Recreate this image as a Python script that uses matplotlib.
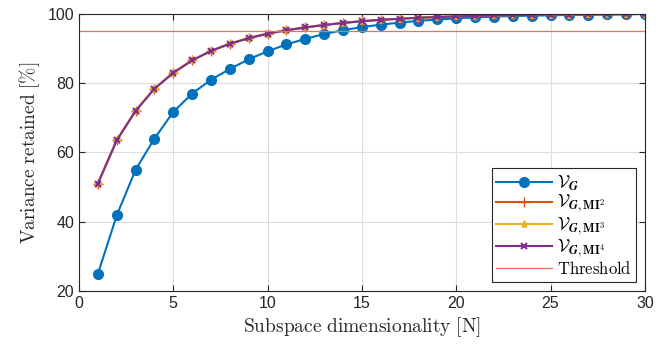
import matplotlib
matplotlib.use('Agg')
from matplotlib import pyplot as plt

plt.rcParams['mathtext.fontset'] = 'cm'

# data
n = list(range(1, 31))
v_g = [24.9, 41.8, 55.0, 64.0, 71.7, 77.0, 81.0, 84.1, 86.9, 89.2,
       91.2, 92.8, 94.2, 95.3, 96.2, 96.9, 97.5, 98.0, 98.4, 98.7,
       99.0, 99.2, 99.4, 99.5, 99.6, 99.7, 99.8, 99.85, 99.9, 100.0]
v_mi2 = [51.0, 63.5, 72.0, 78.4, 83.0, 86.6, 89.3, 91.4, 93.0, 94.3,
         95.3, 96.1, 96.8, 97.4, 97.9, 98.3, 98.6, 98.9, 99.1, 99.3,
         99.45, 99.55, 99.65, 99.72, 99.78, 99.83, 99.88, 99.92, 99.96, 100.0]
v_mi3 = v_mi2
v_mi4 = v_mi2
threshold = 95

plt.figure(figsize=(6.71, 3.48), dpi=100)
ax = plt.axes([0.1177, 0.1638, 0.8433, 0.7962])

ax.plot(n, v_g, color='#0072BD', marker='o', markersize=7, lw=1.5,
        label=r'$\mathcal{V}_{\boldsymbol{G}}$')
ax.plot(n, v_mi2, color='#D95319', marker='+', markersize=7, lw=1.5,
        label=r'$\mathcal{V}_{\boldsymbol{G},\mathbf{MI}^2}$')
ax.plot(n, v_mi3, color='#EDB120', marker='*', markersize=6, lw=1.5,
        label=r'$\mathcal{V}_{\boldsymbol{G},\mathbf{MI}^3}$')
ax.plot(n, v_mi4, color='#7E2F8E', marker='x', markersize=5, mew=1.5, lw=1.5,
        label=r'$\mathcal{V}_{\boldsymbol{G},\mathbf{MI}^4}$')
ax.axhline(threshold, color='#E8735A', lw=0.9, label=r'$\mathrm{Threshold}$')

ax.set_xlim(0, 30)
ax.set_ylim(20, 100)
ax.set_xticks(range(0, 31, 5))
ax.set_yticks(range(20, 101, 20))
ax.grid(True, color='#dcdcdc', lw=0.8)
ax.set_axisbelow(True)
ax.tick_params(direction='in', top=True, right=True, labelsize=11.5, length=4,
               colors='#262626')
for lab in ax.get_xticklabels() + ax.get_yticklabels():
    lab.set_family('Liberation Sans')
for s in ax.spines.values():
    s.set_color('#262626')
    s.set_linewidth(0.8)

ax.set_xlabel(r'$\mathrm{Subspace\ dimensionality\ [N]}$', fontsize=14, labelpad=3,
              color='#262626')
ax.set_ylabel(r'$\mathrm{Variance\ retained\ [\%]}$', fontsize=14, color='#262626')

leg = ax.legend(loc='lower right', fontsize=12.5, fancybox=False, framealpha=1,
                edgecolor='#262626', handlelength=3.2, borderpad=0.25,
                labelspacing=0.0, handletextpad=0.3, borderaxespad=0.5)
leg.get_frame().set_linewidth(0.8)
leg.get_texts()[-1].set_fontsize(12)

plt.savefig('out.png', dpi=100)
